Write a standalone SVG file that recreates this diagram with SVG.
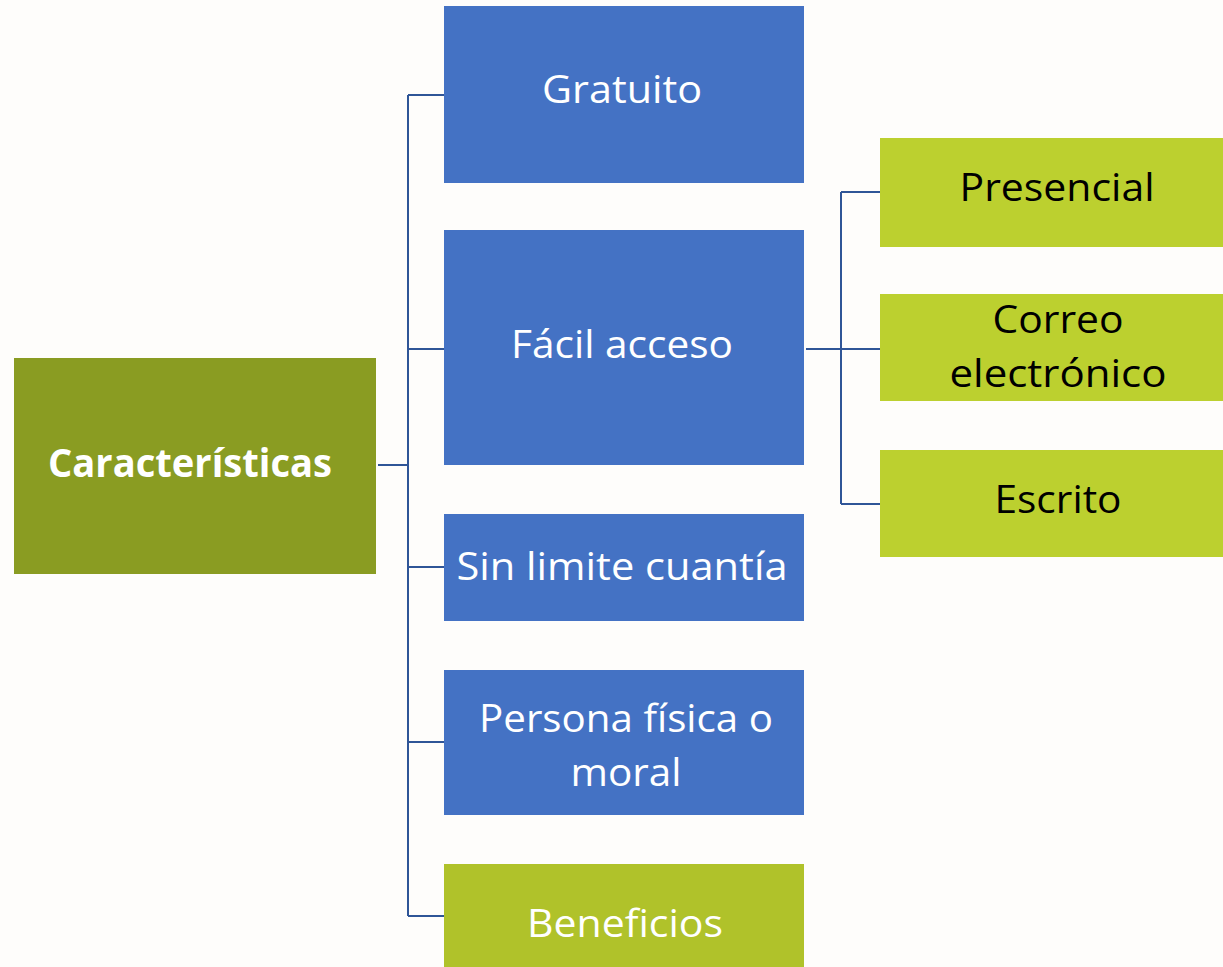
<svg xmlns="http://www.w3.org/2000/svg" width="1223" height="967" viewBox="0 0 1223 967">
<style>
.blue{fill:#4472c4}
.olive{fill:#8a9c22}
.lime{fill:#b0c22a}
.lime2{fill:#bcd02f}
.t{font-family:"Open Sans","Noto Sans","Liberation Sans",sans-serif;font-size:39px;text-anchor:middle}
.w{fill:#ffffff}
.k{fill:#000000}
.b{font-weight:bold}
.c{fill:none;stroke:#2f5597;stroke-width:2}
</style>
<rect width="1223" height="967" fill="#fefdfb"/>
<g id="connectors">
<path class="c" d="M378 465H408M408 95V916M408 95H444M408 349H444M408 567H444M408 742H444M408 916H444"/>
<path class="c" d="M806 349H841M841 192V504M841 192H880M841 349H880M841 504H880"/>
</g>
<g id="caracteristicas">
<rect class="olive" x="14" y="358" width="362" height="216"/>
<text class="t w b" x="190" y="477" textLength="284" lengthAdjust="spacingAndGlyphs">Características</text>
</g>
<g id="gratuito">
<rect class="blue" x="444" y="6" width="360" height="177"/>
<text class="t w" x="622" y="103" textLength="160" lengthAdjust="spacingAndGlyphs">Gratuito</text>
</g>
<g id="facil">
<rect class="blue" x="444" y="230" width="360" height="235"/>
<text class="t w" x="622" y="358" textLength="222" lengthAdjust="spacingAndGlyphs">Fácil acceso</text>
</g>
<g id="sinlimite">
<rect class="blue" x="444" y="514" width="360" height="107"/>
<text class="t w" x="622" y="580" textLength="331" lengthAdjust="spacingAndGlyphs">Sin limite cuantía</text>
</g>
<g id="persona">
<rect class="blue" x="444" y="670" width="360" height="145"/>
<text class="t w" x="626" y="732" textLength="294" lengthAdjust="spacingAndGlyphs">Persona física o</text>
<text class="t w" x="626" y="786" textLength="111" lengthAdjust="spacingAndGlyphs">moral</text>
</g>
<g id="beneficios">
<rect class="lime" x="444" y="864" width="360" height="103"/>
<text class="t w" x="625" y="937" textLength="196" lengthAdjust="spacingAndGlyphs">Beneficios</text>
</g>
<g id="presencial">
<rect class="lime2" x="880" y="138" width="343" height="109"/>
<text class="t k" x="1057" y="201" textLength="195" lengthAdjust="spacingAndGlyphs">Presencial</text>
</g>
<g id="correo">
<rect class="lime2" x="880" y="294" width="343" height="107"/>
<text class="t k" x="1058" y="333" textLength="131" lengthAdjust="spacingAndGlyphs">Correo</text>
<text class="t k" x="1058" y="387" textLength="217" lengthAdjust="spacingAndGlyphs">electrónico</text>
</g>
<g id="escrito">
<rect class="lime2" x="880" y="450" width="343" height="107"/>
<text class="t k" x="1058" y="513" textLength="127" lengthAdjust="spacingAndGlyphs">Escrito</text>
</g>
</svg>
